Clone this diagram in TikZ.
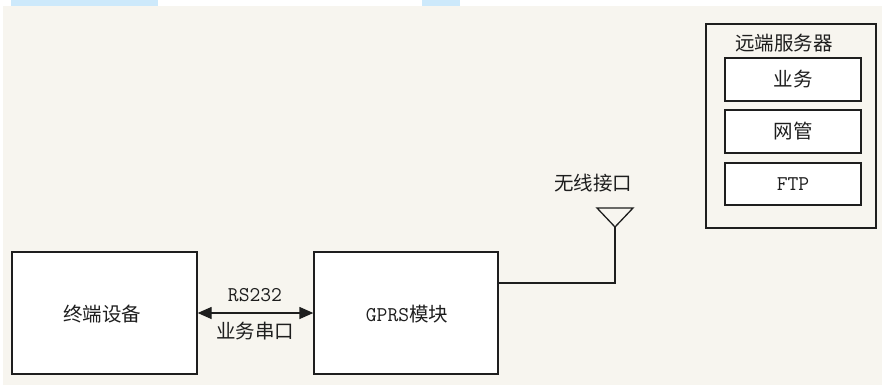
\documentclass[tikz,border=0pt]{standalone}
\usepackage{fontspec}
\usetikzlibrary{arrows.meta}
\newfontfamily\cjkfam{Noto Sans CJK SC}
\definecolor{bgbeige}{HTML}{F7F5EF}
\definecolor{bgblue}{HTML}{CDE9FB}
\definecolor{ink}{HTML}{1E1E1E}
\begin{document}
\begin{tikzpicture}[x=1pt,y=-1pt,
  box/.style={draw=ink,line width=1.3pt,fill=white,inner sep=0pt},
  cn/.style={font=\cjkfam\fontsize{19.5}{19.5}\selectfont,text=ink,inner sep=0pt},
  ln/.style={font=\ttfamily\fontsize{21}{21}\selectfont,text=ink,inner sep=0pt},
  wire/.style={draw=ink,line width=1.3pt},
  dbl/.style={wire,{Triangle[length=14pt,width=12pt]}-{Triangle[length=14pt,width=12pt]}}]
\useasboundingbox (0,0) rectangle (882,385);
% background
\fill[white] (0,0) rectangle (882,385);
\fill[bgbeige] (3,6) rectangle (882,385);
\fill[bgblue] (11,0) rectangle (158,6);
\fill[bgblue] (422,0) rectangle (460,6);
% main boxes
\node[box,minimum width=185pt,minimum height=122pt] (term) at (104.5,313) {};
\node[cn] (termt) at (102,314) {终端设备};
\node[box,minimum width=184pt,minimum height=122pt] (gprs) at (406,313) {};
\node[text=ink,inner sep=0pt] (gprst) at (407,314) {{\ttfamily\fontsize{21}{21}\selectfont GPRS}{\cjkfam\fontsize{19.5}{19.5}\selectfont 模块}};
% serial link
\draw[dbl] (term.east) -- (gprs.west);
\node[ln] (rs) at (255,295) {RS232};
\node[cn] (ser) at (255,331) {业务串口};
% antenna
\coordinate (ant) at (615,227);
\coordinate (gp) at (gprs.east |- 0,283);
\draw[wire,line join=miter] (597,208) -- (633,208) -- (ant) -- cycle;
\draw[wire] (gp) -| (ant);
\node[cn] (wl) at (593,183) {无线接口};
% remote server
\node[draw=ink,line width=1.3pt,fill=bgbeige,minimum width=170pt,minimum height=204pt,inner sep=0pt] (srv) at (791,126) {};
\node[cn] (srvt) at (784,43) {远端服务器};
\node[box,minimum width=136pt,minimum height=43pt] (s1) at (793,79.5) {};
\node[cn] at (s1) {业务};
\node[box,minimum width=136pt,minimum height=43pt] (s2) at (793,131.5) {};
\node[cn] at (s2) {网管};
\node[box,minimum width=136pt,minimum height=42pt] (s3) at (793,184) {};
\node[ln] at (s3) {FTP};
\end{tikzpicture}
\end{document}
